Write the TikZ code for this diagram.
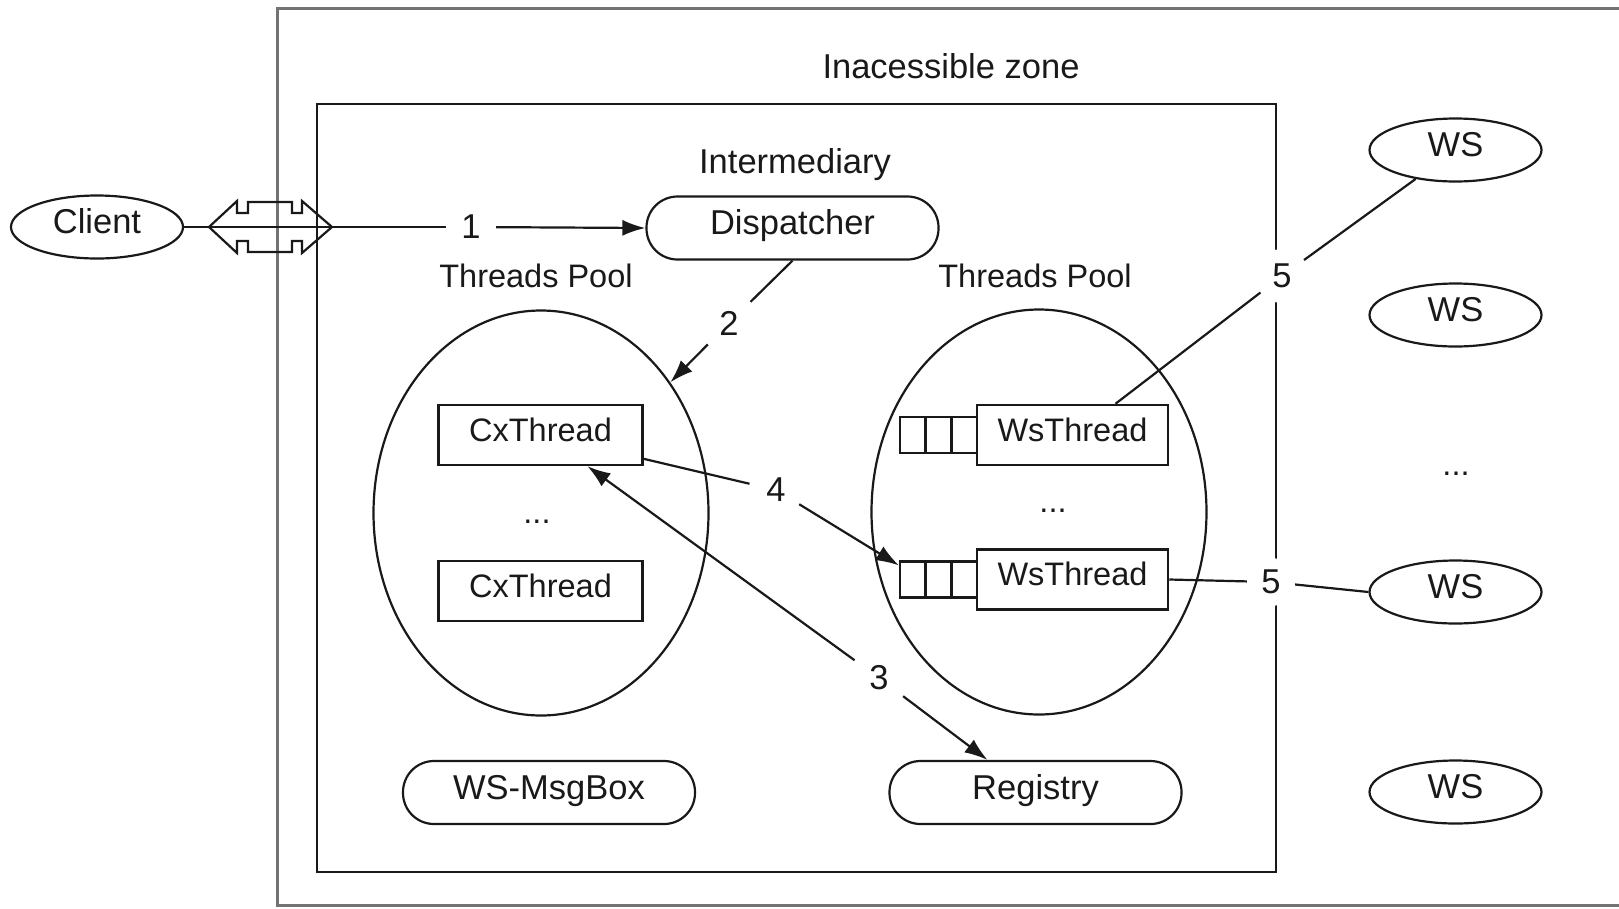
\documentclass[tikz,border=0pt]{standalone}
\usepackage{fontspec}
\setmainfont{Liberation Sans}
\usetikzlibrary{shapes.geometric,arrows.meta,calc}
\newcommand\bigtxt{\fontsize{34.5}{40}\selectfont}
\newcommand\midtxt{\fontsize{32.5}{38}\selectfont}
\definecolor{ink}{gray}{0.1}
\definecolor{frame}{gray}{0.45}
\begin{document}
\begin{tikzpicture}[x=1pt,y=-1pt,
  every node/.style={text=ink},
  ln/.style={draw=ink,line width=2.2pt},
  arr/.style={ln,-{Latex[length=23pt,width=16pt]}},
  oval/.style={ellipse,draw=ink,line width=2.2pt,minimum width=172pt,minimum height=63pt,
    inner sep=0pt,font=\bigtxt,text height=25pt,text depth=12pt},
  pill/.style={draw=ink,line width=2.2pt,rounded corners=31pt,minimum width=292pt,
    minimum height=63pt,inner sep=0pt,font=\bigtxt,text height=25pt,text depth=12pt},
  thr/.style={draw=ink,line width=2.5pt,minimum width=204pt,minimum height=60pt,
    inner sep=0pt,font=\midtxt,text height=23.5pt,text depth=11pt},
  queue/.style={draw=ink,line width=2.2pt,minimum width=77pt,minimum height=36pt,inner sep=0pt},
  pool/.style={ellipse,draw=ink,line width=2.2pt,minimum width=335pt,minimum height=405pt,inner sep=0pt},
  num/.style={circle,fill=white,minimum size=54pt,inner sep=0pt,font=\bigtxt},
  free/.style={anchor=base,inner sep=0pt},
  dots/.style={font=\midtxt,inner sep=0pt},
]
\useasboundingbox (0,0) rectangle (1619,908);

% zones
\draw[draw=frame,line width=3pt] (1630,8) -- (277,8) -- (277,905) -- (1630,905);
\draw[ink,line width=2.5pt] (317,104) rectangle (1276,872);
\node[free,font=\bigtxt] (zone) at (951,78) {Inacessible zone};
\node[free,font=\bigtxt] (inter) at (795,173) {Intermediary};
\node[free,font=\midtxt] (lpooltxt) at (536,287) {Threads Pool};
\node[free,font=\midtxt] (rpooltxt) at (1035,287) {Threads Pool};

% client and dispatcher
\node[oval] (client) at (97,227) {Client};
\node[pill] (disp) at (792.5,228) {Dispatcher};

% thread pools
\node[pool] (lpool) at (541,513) {};
\node[pool] (rpool) at (1039,512) {};
\node[thr] (cx1) at (540.5,435) {CxThread};
\node[thr] (cx2) at (540.5,591) {CxThread};
\node[dots] (ldots) at (537,522) {...};
\node[thr,minimum width=191pt] (ws1t) at (1072.5,435) {WsThread};
\node[thr,minimum width=191pt] (ws2t) at (1072.5,579.5) {WsThread};
\node[dots] (rdots) at (1053,511) {...};
\node[queue] (q1) at (938.5,435) {};
\node[queue] (q2) at (938.5,579.5) {};
\foreach \q in {q1,q2}{
  \foreach \f in {1/3,2/3}{
    \draw[ink,line width=2.5pt] ($(\q.north west)!\f!(\q.north east)$) -- ($(\q.south west)!\f!(\q.south east)$);
  }
}

% services inside the intermediary
\node[pill] (msg) at (549,792.5) {WS-MsgBox};
\node[pill] (reg) at (1035.5,792.5) {Registry};

% web services
\node[oval] (wsA) at (1455.5,150) {WS};
\node[oval] (wsB) at (1455.5,315) {WS};
\node[dots] (wsdots) at (1456,474) {...};
\node[oval] (wsC) at (1455.5,592) {WS};
\node[oval] (wsD) at (1455.5,792) {WS};

% step labels
\node[num,minimum size=50pt] (l1) at (471,227) {1};
\node[num,minimum size=60pt] (l2) at (729,323) {2};
\node[num,minimum size=60pt] (l3) at (879,678) {3};
\node[num] (l4) at (776,490) {4};
\node[num] (l5a) at (1282,276) {5};
\node[num,minimum size=48pt] (l5b) at (1271,582) {5};

% connectors
\draw[ln] (client.east) -- (l1);
\draw[arr] (l1) -- (disp.west);
\draw[ln] (disp.south) -- (l2);
\draw[arr] (l2) -- (lpool);
\draw[arr] (l3) -- ($(cx1.south)+(47,0)$);
\draw[arr] (l3) -- ($(reg.north)+(-48,0)$);
\draw[ln] (cx1.-13) -- (l4);
\draw[arr] (l4) -- ($(q2.north west)+(0,5)$);
\draw[ln] ($(ws1t.north)+(43,0)$) -- (l5a);
\draw[ln] (l5a) -- (wsA);
\draw[ln] (ws2t.east) -- (l5b);
\draw[ln] (l5b) -- (wsC.west);

% hollow double arrow at the client entry
\draw[ln,line join=miter] (209,227) -- (237,201) -- (237,213) -- (248,213) -- (248,202)
  -- (292,202) -- (292,213) -- (302,213) -- (302,201) -- (332,227) -- (302,253)
  -- (302,241) -- (292,241) -- (292,252) -- (248,252) -- (248,241) -- (237,241)
  -- (237,253) -- cycle;
\end{tikzpicture}
\end{document}
